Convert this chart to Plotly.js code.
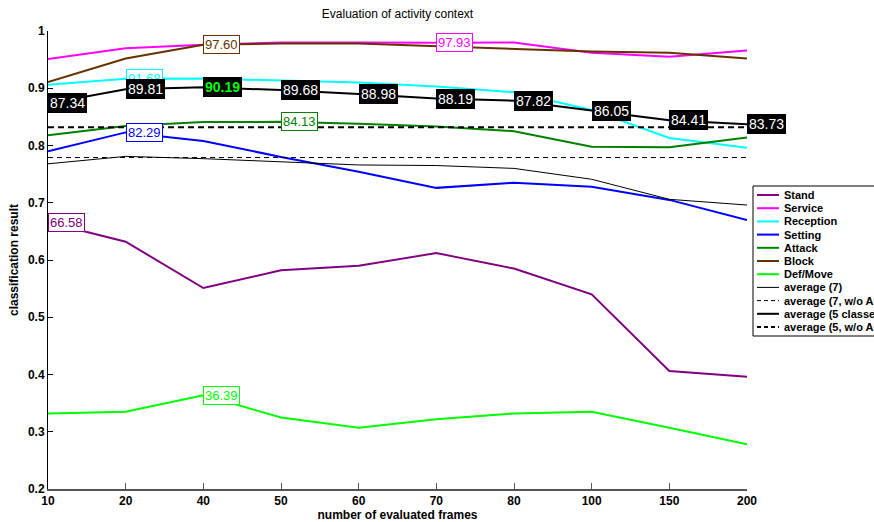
<!DOCTYPE html>
<html>
<head>
<meta charset="utf-8">
<script src="https://cdn.plot.ly/plotly-3.0.1.min.js"></script>
<style>html,body{margin:0;padding:0;background:#fff;overflow:hidden}#chart{width:874px;height:522px}</style>
</head>
<body>
<div id="chart"></div>
<script>
// ---- data ----
const frames = ['10','20','40','50','60','70','80','100','150','200'];
const stand     = [0.6658, 0.632, 0.551, 0.582, 0.590, 0.612, 0.585, 0.540, 0.406, 0.396];
const service   = [0.951, 0.970, 0.976, 0.980, 0.980, 0.9793, 0.980, 0.962, 0.955, 0.966];
const reception = [0.906, 0.9168, 0.917, 0.913, 0.910, 0.903, 0.893, 0.862, 0.813, 0.796];
const setting   = [0.790, 0.8229, 0.808, 0.780, 0.754, 0.726, 0.735, 0.728, 0.705, 0.670];
const attack    = [0.818, 0.834, 0.841, 0.8413, 0.838, 0.833, 0.825, 0.798, 0.797, 0.814];
const block     = [0.911, 0.952, 0.9760, 0.978, 0.978, 0.973, 0.968, 0.964, 0.962, 0.952];
const defmove   = [0.332, 0.335, 0.3639, 0.325, 0.307, 0.322, 0.332, 0.335, 0.307, 0.278];
const avg7      = [0.768, 0.781, 0.777, 0.772, 0.766, 0.765, 0.760, 0.741, 0.706, 0.696];
const avg7woAC  = [0.779, 0.779, 0.779, 0.779, 0.779, 0.779, 0.779, 0.779, 0.779, 0.779];
const avg5      = [0.8734, 0.8981, 0.9019, 0.8968, 0.8898, 0.8819, 0.8782, 0.8605, 0.8441, 0.8373];
const avg5woAC  = [0.832, 0.832, 0.832, 0.832, 0.832, 0.832, 0.832, 0.832, 0.832, 0.832];
const seriesNames = ['Stand','Service','Reception','Setting','Attack','Block','Def/Move',
  'average (7)','average (7, w/o AC)','average (5 classes)','average (5, w/o AC)'];
const seriesValues = [stand, service, reception, setting, attack, block, defmove, avg7, avg7woAC, avg5, avg5woAC];
// labelled points of the class curves (series name, frame index)
const labelSeries = ['Stand','Service','Reception','Setting','Attack','Block','Def/Move'];
const labelIndex  = [0, 5, 1, 1, 3, 2, 2];

// ---- styles ----
const colors = ['#800080','#ff00ff','#00ffff','#0000ff','#008000','#663300','#00ff00','#000000','#000000','#000000','#000000'];
const widths = [2,2,2,2,2,2,2,1,1,2,2];
const dashes = ['solid','solid','solid','solid','solid','solid','solid','solid','5px,4px','solid','6px,4px'];
const FONT = 'Liberation Sans, Arial, Helvetica, sans-serif';

const traces = seriesNames.map((n, i) => ({
  type: 'scatter', mode: 'lines', name: n, x: frames, y: seriesValues[i],
  line: {color: colors[i], width: widths[i], dash: dashes[i]}, showlegend: false, hoverinfo: 'x+y+name'
}));

// plot area geometry (pixels)
const plotL = 48, plotR = 747, plotT = 31, plotB = 489;
const px2x = px => (px - plotL) / (plotR - plotL);
const py2y = py => (plotB - py) / (plotB - plotT);

const annotations = [];
labelSeries.forEach((s, k) => {
  const si = seriesNames.indexOf(s);
  const v = seriesValues[si][labelIndex[k]];
  annotations.push({x: labelIndex[k], y: v, xref: 'x', yref: 'y', text: (v * 100).toFixed(2),
    showarrow: false, xanchor: 'left', yanchor: 'middle', bgcolor: '#ffffff', bordercolor: colors[si],
    borderwidth: 1, borderpad: 1, font: {family: FONT, size: 13, color: colors[si]}});
});
const maxAvg5 = Math.max(...avg5);
avg5.forEach((v, i) => {
  const best = v === maxAvg5;
  annotations.push({x: i, y: v, xref: 'x', yref: 'y', text: best ? '<b>' + (v * 100).toFixed(2) + '</b>' : (v * 100).toFixed(2),
    showarrow: false, xanchor: 'left', yanchor: 'middle', bgcolor: '#000000', bordercolor: '#000000',
    borderwidth: 1, borderpad: 1, font: {family: FONT, size: 14, color: best ? '#00ff00' : '#ffffff'}});
});

// legend box (drawn manually to match compact MATLAB legend)
const shapes = [{type: 'rect', xref: 'paper', yref: 'paper', x0: px2x(753), x1: px2x(890), y0: py2y(336), y1: py2y(186),
  line: {color: '#000', width: 1}, fillcolor: '#ffffff', layer: 'above'}];
seriesNames.forEach((n, i) => {
  const py = 195 + 13.2 * i;
  shapes.push({type: 'line', xref: 'paper', yref: 'paper', x0: px2x(757), x1: px2x(779), y0: py2y(py), y1: py2y(py),
    line: {color: colors[i], width: widths[i], dash: dashes[i] === 'solid' ? 'solid' : '4px,3px'}, layer: 'above'});
  annotations.push({xref: 'paper', yref: 'paper', x: px2x(782), y: py2y(py), text: '<b>' + n + '</b>', showarrow: false,
    xanchor: 'left', yanchor: 'middle', font: {family: FONT, size: 11, color: '#000'}});
});

const layout = {
  width: 874, height: 522, paper_bgcolor: '#fff', plot_bgcolor: '#fff',
  margin: {l: plotL, r: 874 - plotR, t: plotT, b: 522 - plotB, autoexpand: false},
  font: {family: FONT, color: '#000'},
  title: {text: 'Evaluation of activity context', font: {family: FONT, size: 12, color: '#000'},
    x: 0.5, xref: 'paper', y: 1 - 14 / 522, yref: 'container', yanchor: 'middle'},
  xaxis: {type: 'category', range: [0, 9], showgrid: false, zeroline: false, showline: true, linecolor: '#555', linewidth: 1.5,
    ticks: 'inside', ticklen: 6, tickcolor: '#555', tickfont: {family: FONT, size: 12, color: '#000', weight: 'bold'},
    title: {text: '<b>number of evaluated frames</b>', font: {family: FONT, size: 12, color: '#000'}, standoff: 2}},
  yaxis: {range: [0.2, 1], tick0: 0.2, dtick: 0.1, showgrid: false, zeroline: false, showline: true, linecolor: '#000', linewidth: 1,
    ticks: 'inside', ticklen: 5, tickcolor: '#000', tickfont: {family: FONT, size: 12, color: '#000', weight: 'bold'},
    title: {text: '<b>classification result</b>', font: {family: FONT, size: 12, color: '#000'}, standoff: 6}},
  showlegend: false, annotations: annotations, shapes: shapes
};
Plotly.newPlot('chart', traces, layout, {staticPlot: true, displayModeBar: false});
</script>
</body>
</html>
